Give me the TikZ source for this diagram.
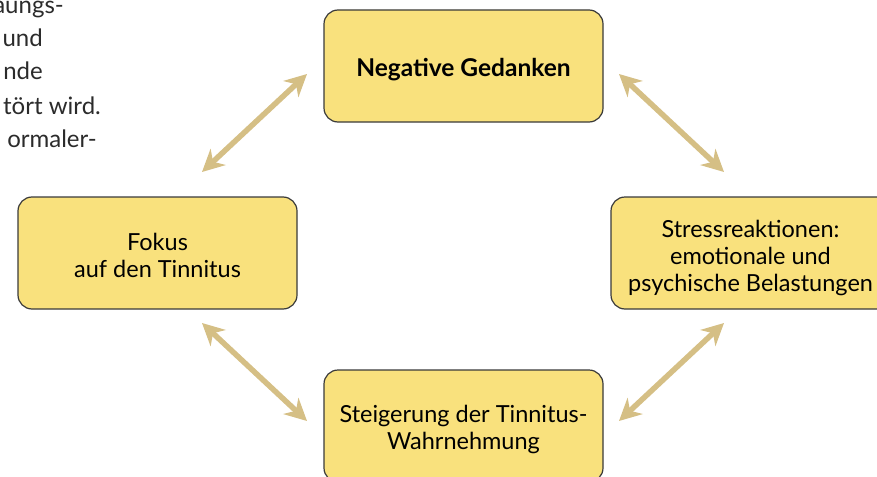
\documentclass[tikz,border=0pt]{standalone}
\usepackage{fontspec}
\setmainfont{Lato}
\usetikzlibrary{arrows.meta}
\definecolor{boxfill}{HTML}{F9E17D}
\definecolor{boxline}{HTML}{3A3A3A}
\definecolor{arrowtan}{HTML}{D5BF85}
\definecolor{txt}{HTML}{2B2B2B}
\tikzset{
  box/.style={draw=boxline, line width=1.2pt, fill=boxfill, rounded corners=14pt,
    minimum width=279pt, minimum height=112pt, inner sep=0pt},
  boxtext/.style={align=center, text=black, inner sep=0pt,
    font=\fontsize{23.5}{27}\selectfont},
  cyc/.style={draw=arrowtan, line width=5.5pt,
    {Stealth[length=22pt,width=22pt,inset=7pt]}-{Stealth[length=22pt,width=22pt,inset=7pt]},
    shorten <=0pt, shorten >=0pt},
  side/.style={anchor=base east, text=txt, font=\fontsize{24}{28}\selectfont, inner sep=0pt}
}
\begin{document}
\begin{tikzpicture}[x=1pt,y=-1pt]
\useasboundingbox (0,0) rectangle (877,476);
\begin{scope}
\clip (0,0) rectangle (877,476);
\node[side] (l1) at (64,14) {aungs-};
\node[side] (l2) at (43,47) {und};
\node[side] (l3) at (43,80) {nde};
\node[side] (l4) at (101,114) {tört wird.};
\node[side] (l5) at (97,147) {ormaler-};

\node[box, label={[boxtext, font=\fontsize{24.5}{27}\selectfont\bfseries, yshift=-4pt]center:{Negative Gedanken}}] (neg) at (463.5,66) {};
\node[box, label={[boxtext, yshift=-5pt]center:{Stressreaktionen:\\emotionale und\\psychische Belastungen}}] (stress) at (750.5,253) {};
\node[box, label={[boxtext, yshift=-2pt]center:{Fokus\\auf den Tinnitus}}] (fokus) at (157.5,253) {};
\node[box, label={[boxtext, yshift=-3pt]center:{Steigerung der Tinnitus-\\Wahrnehmung}}] (steig) at (463.5,426) {};
\end{scope}

\coordinate (a1) at (202,172);
\coordinate (a2) at (307,74);
\coordinate (b1) at (619,74);
\coordinate (b2) at (724,172);
\coordinate (c1) at (202,323);
\coordinate (c2) at (307,421);
\coordinate (d1) at (619,421);
\coordinate (d2) at (724,323);
\draw[cyc] (a1) -- (a2);
\draw[cyc] (b1) -- (b2);
\draw[cyc] (c1) -- (c2);
\draw[cyc] (d1) -- (d2);
\end{tikzpicture}
\end{document}
